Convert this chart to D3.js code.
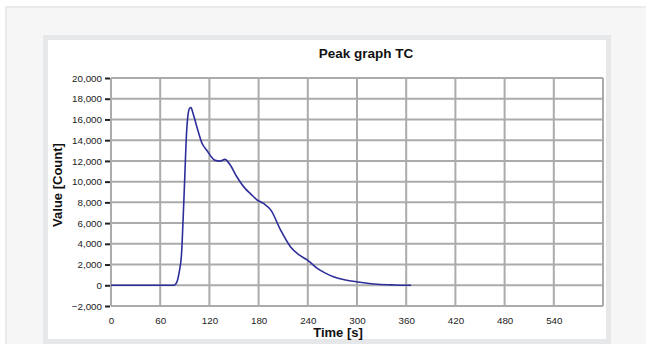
<!DOCTYPE html>
<html><head><meta charset="utf-8">
<script src="https://cdn.jsdelivr.net/npm/d3@7"></script>
<style>body{margin:0;background:#fff;}svg{display:block;}</style>
</head><body>
<svg id="c" width="646" height="344"></svg>
<script>
const title = "Peak graph TC";
const xLabel = "Time [s]";
const yLabel = "Value [Count]";
const xTicks = [0, 60, 120, 180, 240, 300, 360, 420, 480, 540];
const yTicks = [-2000, 0, 2000, 4000, 6000, 8000, 10000, 12000, 14000, 16000, 18000, 20000];
const timeS = [0, 40, 70, 77, 80, 83, 86, 88, 90, 92, 94, 96, 97.5, 100, 105, 111, 117, 127, 133, 139, 145, 154, 164, 170, 178, 186, 195, 207, 219, 230, 240, 252, 262, 272, 286, 301, 325, 345, 366];
const counts = [0, 0, 0, 0, 250, 1200, 3000, 6500, 10500, 14500, 16500, 17100, 17150, 16600, 15200, 13700, 13000, 12050, 11980, 12150, 11650, 10400, 9300, 8850, 8250, 7900, 7250, 5300, 3700, 2900, 2400, 1600, 1150, 800, 500, 320, 100, 30, 0];

const svg = d3.select("#c");
const font = "'Liberation Sans', Arial, sans-serif";
// outer background box
svg.append("rect").attr("x",6).attr("y",7).attr("width",660).attr("height",360)
  .attr("fill","#f6f6f6").attr("stroke","#ebebeb").attr("stroke-width",2);
// frame panel
svg.append("rect").attr("x",45.5).attr("y",37.5).attr("width",563).attr("height",304)
  .attr("fill","#fff").attr("stroke","#e6e7e9").attr("stroke-width",5);

const m = {l:111, r:603, t:78, b:306};
const x = d3.scaleLinear().domain([0,600]).range([m.l,m.r]);
const y = d3.scaleLinear().domain([-2000,20000]).range([m.b,m.t]);

const g = svg.append("g");
// grid
g.selectAll("line.vx").data(xTicks.concat([600])).join("line")
  .attr("x1",d=>x(d)).attr("x2",d=>x(d)).attr("y1",m.t).attr("y2",m.b)
  .attr("stroke","#ababab").attr("stroke-width",2);
g.selectAll("line.hy").data(yTicks).join("line")
  .attr("x1",m.l).attr("x2",m.r).attr("y1",d=>y(d)).attr("y2",d=>y(d))
  .attr("stroke","#ababab").attr("stroke-width",2);

// y axis ticks + labels
const ya = d3.axisLeft(y).tickValues(yTicks).tickSize(5).tickPadding(3).tickFormat(d3.format(","));
const yg = svg.append("g").attr("transform",`translate(${m.l-1},0)`).call(ya);
yg.select(".domain").remove();
yg.selectAll(".tick line").attr("stroke","#222").attr("stroke-width",2);
yg.selectAll("text").attr("font-family",font).attr("font-size","9.8px").attr("fill","#222");

// x axis labels
const xa = d3.axisBottom(x).tickValues(xTicks).tickSize(0).tickPadding(11).tickFormat(d3.format("d"));
const xg = svg.append("g").attr("transform",`translate(0,${m.b})`).call(xa);
xg.select(".domain").remove();
xg.selectAll("text").attr("font-family",font).attr("font-size","9.8px").attr("fill","#222");

// line
const line = d3.line().x((d,i)=>x(timeS[i])).y(d=>y(d)).curve(d3.curveMonotoneX);
svg.append("path").datum(counts).attr("d",line).attr("fill","none")
  .attr("stroke","#2e2e9a").attr("stroke-width",1.6);

// titles
svg.append("text").attr("x",366).attr("y",58).attr("text-anchor","middle")
  .attr("font-family",font).attr("font-weight","bold").attr("font-size","13.5px").attr("fill","#111").text(title);
svg.append("text").attr("x",338).attr("y",337).attr("text-anchor","middle")
  .attr("font-family",font).attr("font-weight","bold").attr("font-size","13px").attr("fill","#111").text(xLabel);
svg.append("text").attr("transform","translate(62,185) rotate(-90)").attr("text-anchor","middle")
  .attr("font-family",font).attr("font-weight","bold").attr("font-size","13px").attr("fill","#111").text(yLabel);
</script>
</body></html>
